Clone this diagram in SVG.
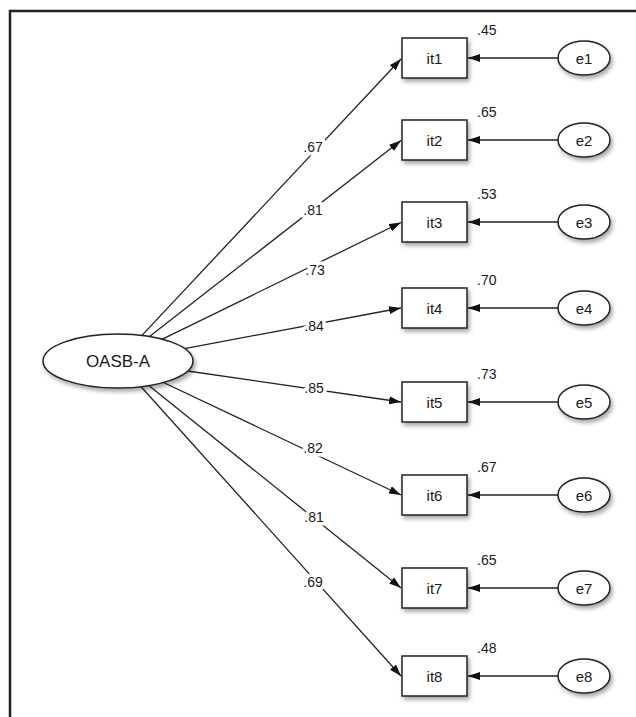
<svg xmlns="http://www.w3.org/2000/svg" width="636" height="717" viewBox="0 0 636 717">
<defs>
<style>
text{font-family:"Liberation Sans",Arial,sans-serif;fill:#1a1a1a;}
.box{fill:#fff;stroke:#222;stroke-width:1.5;filter:url(#sh);}
.ell{fill:#fff;stroke:#222;stroke-width:1.5;filter:url(#sh);}
.lab{font-size:15px;text-anchor:middle;dominant-baseline:central;}
.coef{font-size:14px;text-anchor:middle;dominant-baseline:central;paint-order:stroke;stroke:#fff;stroke-width:7px;stroke-linejoin:round;}
.r2{font-size:14px;}
.ln{stroke:#222;stroke-width:1.3;fill:none;marker-end:url(#ah);}
</style>
<filter id="sh" x="-30%" y="-30%" width="170%" height="180%">
<feDropShadow dx="2" dy="3" stdDeviation="2" flood-color="#000" flood-opacity="0.35"/>
</filter>
<marker id="ah" viewBox="0 0 12 8" refX="12" refY="4" markerWidth="12" markerHeight="8" markerUnits="userSpaceOnUse" orient="auto">
<path d="M0,0 L12,4 L0,8 Z" fill="#111"/>
</marker>
</defs>
<rect width="636" height="717" fill="#fff"/>
<g id="frame" stroke="#222" stroke-width="2.5" fill="none">
<line x1="9" y1="11" x2="636" y2="11"/>
<line x1="10" y1="10" x2="10" y2="717"/>
</g>
<g id="connectors">
<line class="ln" x1="142" y1="335.4" x2="401" y2="59"/>
<line class="ln" x1="149.5" y1="336.5" x2="401" y2="140.5"/>
<line class="ln" x1="162.4" y1="339.2" x2="401" y2="222.5"/>
<line class="ln" x1="184.6" y1="348.6" x2="401" y2="308"/>
<line class="ln" x1="187.6" y1="371" x2="401" y2="402"/>
<line class="ln" x1="163.5" y1="382.5" x2="401" y2="495"/>
<line class="ln" x1="148.8" y1="385.6" x2="401" y2="588"/>
<line class="ln" x1="141.1" y1="386.7" x2="401" y2="676"/>
<line class="ln" x1="558" y1="58" x2="468" y2="58"/>
<line class="ln" x1="558" y1="140" x2="468" y2="140"/>
<line class="ln" x1="558" y1="222" x2="468" y2="222"/>
<line class="ln" x1="558" y1="308" x2="468" y2="308"/>
<line class="ln" x1="558" y1="402" x2="468" y2="402"/>
<line class="ln" x1="558" y1="495" x2="468" y2="495"/>
<line class="ln" x1="558" y1="588" x2="468" y2="588"/>
<line class="ln" x1="558" y1="676" x2="468" y2="676"/>
<text class="coef" x="313" y="147">.67</text>
<text class="coef" x="313" y="210">.81</text>
<text class="coef" x="315" y="270">.73</text>
<text class="coef" x="314" y="326">.84</text>
<text class="coef" x="314" y="388">.85</text>
<text class="coef" x="313" y="448">.82</text>
<text class="coef" x="314" y="517">.81</text>
<text class="coef" x="313" y="582">.69</text>
</g>
<g id="OASB-A"><ellipse class="ell" cx="118" cy="361" rx="75" ry="27"/><text class="lab" x="118" y="361" style="font-size:17px">OASB-A</text></g>
<g id="it1"><rect class="box" x="402" y="38" width="65" height="40"/><text class="lab" x="434.5" y="58">it1</text><text class="r2" x="477" y="35">.45</text></g>
<g id="it2"><rect class="box" x="402" y="120" width="65" height="40"/><text class="lab" x="434.5" y="140">it2</text><text class="r2" x="477" y="117">.65</text></g>
<g id="it3"><rect class="box" x="402" y="202" width="65" height="40"/><text class="lab" x="434.5" y="222">it3</text><text class="r2" x="477" y="199">.53</text></g>
<g id="it4"><rect class="box" x="402" y="288" width="65" height="40"/><text class="lab" x="434.5" y="308">it4</text><text class="r2" x="477" y="285">.70</text></g>
<g id="it5"><rect class="box" x="402" y="382" width="65" height="40"/><text class="lab" x="434.5" y="402">it5</text><text class="r2" x="477" y="379">.73</text></g>
<g id="it6"><rect class="box" x="402" y="475" width="65" height="40"/><text class="lab" x="434.5" y="495">it6</text><text class="r2" x="477" y="472">.67</text></g>
<g id="it7"><rect class="box" x="402" y="568" width="65" height="40"/><text class="lab" x="434.5" y="588">it7</text><text class="r2" x="477" y="565">.65</text></g>
<g id="it8"><rect class="box" x="402" y="656" width="65" height="40"/><text class="lab" x="434.5" y="676">it8</text><text class="r2" x="477" y="653">.48</text></g>
<g id="e1"><ellipse class="ell" cx="584" cy="58" rx="26" ry="17"/><text class="lab" x="584" y="58">e1</text></g>
<g id="e2"><ellipse class="ell" cx="584" cy="140" rx="26" ry="17"/><text class="lab" x="584" y="140">e2</text></g>
<g id="e3"><ellipse class="ell" cx="584" cy="222" rx="26" ry="17"/><text class="lab" x="584" y="222">e3</text></g>
<g id="e4"><ellipse class="ell" cx="584" cy="308" rx="26" ry="17"/><text class="lab" x="584" y="308">e4</text></g>
<g id="e5"><ellipse class="ell" cx="584" cy="402" rx="26" ry="17"/><text class="lab" x="584" y="402">e5</text></g>
<g id="e6"><ellipse class="ell" cx="584" cy="495" rx="26" ry="17"/><text class="lab" x="584" y="495">e6</text></g>
<g id="e7"><ellipse class="ell" cx="584" cy="588" rx="26" ry="17"/><text class="lab" x="584" y="588">e7</text></g>
<g id="e8"><ellipse class="ell" cx="584" cy="676" rx="26" ry="17"/><text class="lab" x="584" y="676">e8</text></g>
</svg>
